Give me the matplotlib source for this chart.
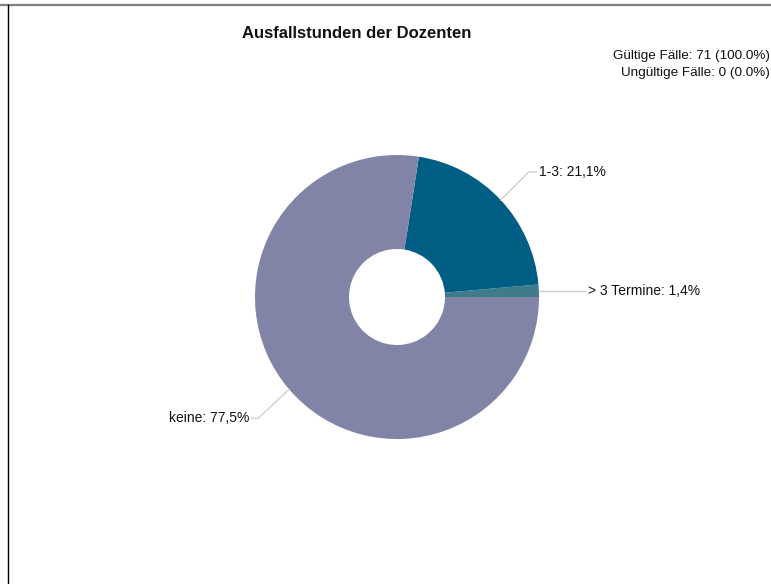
import numpy as np
import matplotlib.pyplot as plt
from matplotlib.lines import Line2D

plt.rcParams['font.family'] = ['Liberation Sans', 'DejaVu Sans']

# data: Ausfallstunden (n = 71)
labels = ['> 3 Termine', '1-3', 'keine']
counts = [1, 15, 55]
colors = ['#3e7c8c', '#005e85', '#8184a6']

W, H = 771, 584
fig = plt.figure(figsize=(W/100, H/100), dpi=100)
ax = fig.add_axes([0, 0, 1, 1])

cx, cy, r = 397, H - 297, 142
wedges, _ = ax.pie(counts, colors=colors, startangle=0, counterclock=True,
                   center=(cx, cy), radius=r,
                   wedgeprops=dict(width=r - 48, linewidth=0))
ax.set_xlim(0, W)
ax.set_ylim(0, H)
ax.set_aspect('equal')
ax.axis('off')

total = sum(counts)
pct = [c / total * 100 for c in counts]

# label offsets (dx1, dy1 = elbow, dx2 = horizontal tail)
offsets = {
    '> 3 Termine': (46, 0, 1, 'left'),
    '1-3': (28, 28, 8, 'left'),
    'keine': (-31, -29, -7, 'right'),
}
for w, lab, p in zip(wedges, labels, pct):
    ang = np.deg2rad((w.theta1 + w.theta2) / 2)
    x0 = cx + r * np.cos(ang)
    y0 = cy + r * np.sin(ang)
    dx1, dy1, dx2, ha = offsets[lab]
    x1, y1 = x0 + dx1, y0 + dy1
    x2 = x1 + dx2
    ax.plot([x0, x1, x2], [y0, y1, y1], color='#d0d0d0', lw=1)
    txt = f'{lab}: {p:.1f}%'.replace('.', ',')
    tx = x2 + (2 if ha == 'left' else -2)
    ax.text(tx, y1, txt, ha=ha, va='center', fontsize=10, color='#111111')

fig.text(357/W, 1 - 33/H, 'Ausfallstunden der Dozenten', ha='center', va='center',
         fontsize=12, fontweight='bold', color='#111111')
fig.text(770/W, 1 - 56/H, f'Gültige Fälle: {total} (100.0%)', ha='right', va='center',
         fontsize=9.7, color='#111111')
fig.text(770/W, 1 - 73/H, 'Ungültige Fälle: 0 (0.0%)', ha='right', va='center',
         fontsize=9.7, color='#111111')

# frame lines
fig.add_artist(Line2D([0, 1], [1 - 4.5/H, 1 - 4.5/H], color='#808080', lw=1.6))
fig.add_artist(Line2D([7.5/W, 7.5/W], [0, 1 - 5/H], color='#000000', lw=1))

fig.savefig('out.png', dpi=100)
